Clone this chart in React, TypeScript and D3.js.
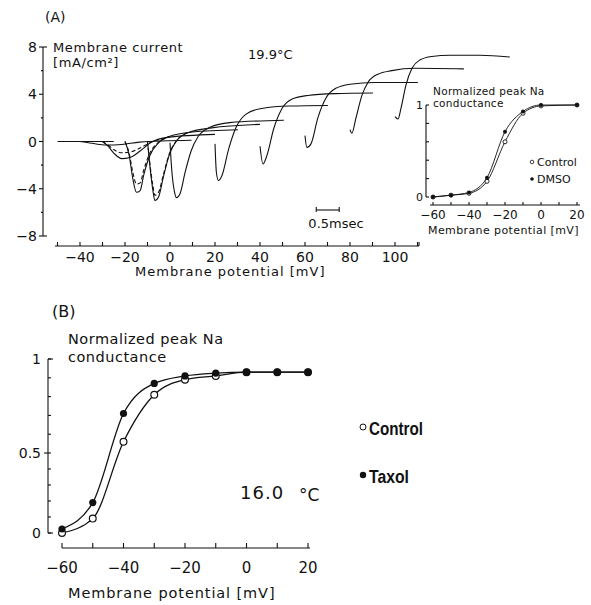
import * as d3 from "d3";

const W = 591;
const H = 605;

// ---- panel A: membrane current traces, points are [time ms, current mA/cm2]
const aTicksX = [-40, -20, 0, 20, 40, 60, 80, 100];
const aTicksY = [8, 4, 0, -4, -8];
const aMinorY = [6, 2, -2, -6];

const testPotentials = [-40, -30, -20, -10, 0, 20, 40, 60, 80, 100];

const traceM40 = [[0, 0], [0.26, -0.15], [0.57, -0.3], [0.91, -0.25], [1.3, -0.05], [2.43, 0.1]];
const traceM30 = [[0, 0], [0.12, -0.4], [0.25, -1.0], [0.42, -1.45], [0.6, -1.35], [0.82, -0.8], [1.07, -0.05], [1.42, 0.35], [2.45, 0.6]];
const traceM20 = [[0, 0], [0.09, -1.15], [0.17, -3.15], [0.25, -4.3], [0.33, -4.15], [0.41, -2.8], [0.54, -1.2], [0.72, -0.15], [0.98, 0.45], [1.46, 0.8], [2.46, 1.0]];
const traceM10 = [[0, 0], [0.05, -2.0], [0.12, -4.2], [0.16, -5.0], [0.24, -4.7], [0.34, -3.1], [0.47, -1.2], [0.64, 0.1], [0.92, 0.8], [1.4, 1.15], [2.45, 1.45]];
const trace0 = [[0, -0.1], [0.04, -2.5], [0.1, -4.3], [0.14, -4.75], [0.22, -4.4], [0.33, -2.6], [0.46, -0.8], [0.61, 0.4], [0.87, 1.2], [1.3, 1.6], [2.48, 1.8]];
const trace20 = [[0, -0.2], [0.03, -2.6], [0.075, -3.3], [0.15, -2.9], [0.3, -0.6], [0.46, 1.2], [0.67, 2.3], [1.02, 2.8], [1.63, 3.0], [2.46, 3.05]];
const trace40 = [[0, -0.4], [0.065, -1.9], [0.15, -1.2], [0.3, 1.1], [0.48, 2.8], [0.7, 3.6], [1.04, 3.9], [1.63, 4.05], [2.46, 4.1]];
const trace60 = [[0, 0.5], [0.04, -0.5], [0.13, -0.2], [0.28, 2.0], [0.46, 3.7], [0.67, 4.5], [0.98, 4.85], [1.52, 5.0], [2.46, 5.0]];
const trace80 = [[0, 1.0], [0.04, 0.7], [0.13, 2.0], [0.26, 3.9], [0.39, 5.0], [0.61, 5.7], [0.91, 6.0], [1.41, 6.2], [2.48, 6.15]];
const trace100 = [[0, 2.1], [0.065, 1.9], [0.13, 2.8], [0.24, 4.8], [0.37, 6.2], [0.54, 6.9], [0.8, 7.2], [1.2, 7.3], [1.85, 7.3], [2.5, 7.15]];
const controlTraces = [traceM40, traceM30, traceM20, traceM10, trace0, trace20, trace40, trace60, trace80, trace100];

// DMSO traces (dashed)
const dmsoPotentials = [-30, -20, -10];
const dmsoM30 = [[0, 0], [0.12, -0.3], [0.25, -0.7], [0.42, -0.95], [0.6, -0.9], [0.82, -0.55], [1.07, -0.05], [1.42, 0.3]];
const dmsoM20 = [[0, 0], [0.09, -1.0], [0.17, -2.6], [0.25, -3.6], [0.33, -3.5], [0.41, -2.4], [0.54, -1.0], [0.72, -0.1], [0.98, 0.45]];
const dmsoM10 = [[0, 0], [0.05, -1.8], [0.12, -3.8], [0.16, -4.55], [0.24, -4.3], [0.34, -2.9], [0.47, -1.1], [0.64, 0.1], [0.92, 0.8]];
const dmsoTraces = [dmsoM30, dmsoM20, dmsoM10];

const holdingMv = [-50, -25];
const scaleBarMs = 0.5;
const msecInMv = 20.4; // 1 ms of trace time spans this many mV on the axis

// ---- inset in A: normalized peak Na conductance
const insetV = [-60, -50, -40, -30, -20, -10, 0, 20];
const insetControl = [0, 0.02, 0.04, 0.17, 0.6, 0.91, 0.99, 1.0];
const insetDmso = [0, 0.02, 0.05, 0.21, 0.71, 0.93, 1.0, 1.0];
const insetTicksX = [-60, -40, -20, 0, 20];

// ---- panel B
const bV = [-60, -50, -40, -30, -20, -10, 0, 10, 20];
const bControl = [0.0, 0.09, 0.56, 0.81, 0.89, 0.91, 0.93, 0.93, 0.93];
const bTaxol = [0.025, 0.19, 0.71, 0.87, 0.91, 0.925, 0.93, 0.93, 0.93];
const bTicksX = [-60, -40, -20, 0, 20];
const bTicksY = [0, 0.5, 1];

const font = "DejaVu Sans, sans-serif";
const narrow = "Liberation Sans Narrow, Liberation Sans, sans-serif";

const fmt = (t: number) => (t < 0 ? "−" + Math.abs(t) : String(t));

export default function App() {
  // panel A scales
  const xA = d3.scaleLinear().domain([-50, 110]).range([57.5, 417.5]);
  const yA = d3.scaleLinear().domain([-8, 8]).range([236, 47]);

  const traceLine = (v: number) =>
    d3
      .line<number[]>()
      .x((d) => xA(v + d[0] * msecInMv))
      .y((d) => yA(d[1]))
      .curve(d3.curveMonotoneX);

  // inset scales
  const xI = d3.scaleLinear().domain([-60, 20]).range([433, 577]);
  const yI = d3.scaleLinear().domain([0, 1]).range([197, 105]);
  const insetLine = d3
    .line<number>()
    .x((_, i) => xI(insetV[i]))
    .y((d) => yI(d))
    .curve(d3.curveMonotoneX);

  // panel B scales
  const xB = d3.scaleLinear().domain([-60, 20]).range([62, 308]);
  const yB = d3.scaleLinear().domain([0, 0.5, 1]).range([533, 453, 359]);
  const bLine = d3
    .line<number>()
    .x((_, i) => xB(bV[i]))
    .y((d) => yB(d))
    .curve(d3.curveMonotoneX);

  const aMinorX = d3.range(-50, 111, 10);
  const bMinorX = d3.range(-60, 21, 10);
  const bMinorY = d3.range(0, 1.001, 0.1);
  const iMinorY = d3.range(0, 1.001, 0.2);
  const barEnd = 65 + scaleBarMs * msecInMv;

  return (
    <svg width={W} height={H} style={{ position: "absolute", left: 0, top: 0, background: "#fff" }}>
      <g fill="none" stroke="#111" strokeWidth={1.1}>
        {/* ===== panel A axes ===== */}
        <line x1={43} x2={43} y1={yA(8)} y2={yA(-8)} />
        {aTicksY.map((t) => (
          <line key={t} x1={39} x2={43} y1={yA(t)} y2={yA(t)} />
        ))}
        {aMinorY.map((t) => (
          <line key={t} x1={41} x2={43} y1={yA(t)} y2={yA(t)} />
        ))}
        <line x1={43} x2={47} y1={yA(8)} y2={yA(8)} />
        <line x1={43} x2={47} y1={yA(-8)} y2={yA(-8)} />
        <line x1={55} x2={419} y1={246} y2={246} />
        {aMinorX.map((t) => (
          <line key={t} x1={xA(t)} x2={xA(t)} y1={246} y2={242} />
        ))}
        <line x1={419} x2={419} y1={246} y2={242} />

        {/* holding level */}
        <line x1={xA(holdingMv[0])} x2={xA(holdingMv[1])} y1={yA(0)} y2={yA(0)} />

        {/* traces */}
        {controlTraces.map((tr, i) => (
          <path key={i} d={traceLine(testPotentials[i])(tr) || ""} />
        ))}
        {dmsoTraces.map((tr, i) => (
          <path key={i} d={traceLine(dmsoPotentials[i])(tr) || ""} strokeDasharray="4 2.5" />
        ))}

        {/* scale bar */}
        <line x1={xA(65)} x2={xA(barEnd)} y1={210} y2={210} />
        <line x1={xA(65)} x2={xA(65)} y1={207} y2={212} />
        <line x1={xA(barEnd)} x2={xA(barEnd)} y1={207} y2={212} />

        {/* ===== inset ===== */}
        <line x1={426} x2={426} y1={yI(1)} y2={yI(0)} />
        {iMinorY.map((t) => (
          <line key={t} x1={426} x2={429} y1={yI(t)} y2={yI(t)} />
        ))}
        <line x1={430} x2={580} y1={205} y2={205} />
        {d3.range(-60, 21, 10).map((t) => (
          <line key={t} x1={xI(t)} x2={xI(t)} y1={205} y2={202} />
        ))}
        <path d={insetLine(insetControl) || ""} strokeWidth={0.9} />
        <path d={insetLine(insetDmso) || ""} strokeWidth={0.9} />

        {/* ===== panel B axes ===== */}
        <line x1={48} x2={48} y1={yB(1)} y2={yB(0)} />
        {bMinorY.map((t) => (
          <line key={t} x1={48} x2={51} y1={yB(t)} y2={yB(t)} />
        ))}
        <line x1={44} x2={48} y1={yB(0.5)} y2={yB(0.5)} />
        <line x1={48} x2={53} y1={yB(1)} y2={yB(1)} />
        <line x1={48} x2={53} y1={yB(0)} y2={yB(0)} />
        <line x1={xB(-60)} x2={xB(20) + 2} y1={548} y2={548} />
        {bMinorX.map((t) => (
          <line key={t} x1={xB(t)} x2={xB(t)} y1={548} y2={543} />
        ))}
        <path d={bLine(bControl) || ""} strokeWidth={1.3} />
        <path d={bLine(bTaxol) || ""} strokeWidth={1.3} />
      </g>

      {/* inset markers */}
      {insetV.map((v, i) => (
        <circle key={"c" + v} cx={xI(v)} cy={yI(insetControl[i])} r={2} fill="#fff" stroke="#111" strokeWidth={0.9} />
      ))}
      {insetV.map((v, i) => (
        <circle key={"d" + v} cx={xI(v)} cy={yI(insetDmso[i])} r={2} fill="#111" />
      ))}

      {/* panel B markers */}
      {bV.map((v, i) => (
        <circle key={"bc" + v} cx={xB(v)} cy={yB(bControl[i])} r={3.4} fill="#fff" stroke="#111" strokeWidth={1.2} />
      ))}
      {bV.map((v, i) => (
        <circle key={"bt" + v} cx={xB(v)} cy={yB(bTaxol[i])} r={3.6} fill="#111" />
      ))}

      {/* ===== texts ===== */}
      <g fontFamily={font} fill="#111">
        <text x={45} y={22} fontSize={14}>(A)</text>
        <text x={53} y={52} fontSize={13} letterSpacing={0.6}>Membrane current</text>
        <text x={53} y={67} fontSize={13} letterSpacing={0.6}>[mA/cm²]</text>
        <text x={248} y={59} fontSize={13}>19.9°C</text>
        {aTicksY.map((t) => (
          <text key={t} x={37} y={yA(t) + 5} fontSize={14} textAnchor="end">{fmt(t)}</text>
        ))}
        {aTicksX.map((t) => (
          <text key={t} x={xA(t)} y={262} fontSize={14} textAnchor="middle">{fmt(t)}</text>
        ))}
        <text x={135} y={276} fontSize={13} letterSpacing={1}>Membrane potential [mV]</text>
        <text x={336} y={228} fontSize={13} textAnchor="middle">0.5msec</text>

        {/* inset texts */}
        <text x={433} y={95} fontSize={10.5} letterSpacing={0.3}>Normalized peak Na</text>
        <text x={433} y={107} fontSize={10.5} letterSpacing={0.3}>conductance</text>
        <text x={423} y={yI(1) + 4} fontSize={11} textAnchor="end">1</text>
        <text x={423} y={yI(0) + 4} fontSize={11} textAnchor="end">0</text>
        {insetTicksX.map((t) => (
          <text key={t} x={xI(t)} y={219} fontSize={12} textAnchor="middle">{fmt(t)}</text>
        ))}
        <text x={428} y={234} fontSize={11} letterSpacing={0.4}>Membrane potential [mV]</text>
        <circle cx={532} cy={162} r={1.8} fill="#fff" stroke="#111" strokeWidth={0.8} />
        <text x={537} y={166} fontSize={11}>Control</text>
        <circle cx={532} cy={179} r={1.8} fill="#111" />
        <text x={537} y={183} fontSize={11}>DMSO</text>

        {/* panel B texts */}
        <text x={52} y={317} fontSize={16}>(B)</text>
        <text x={68} y={344} fontSize={14.5} letterSpacing={0.5}>Normalized peak Na</text>
        <text x={68} y={362} fontSize={14.5} letterSpacing={0.5}>conductance</text>
        {bTicksY.map((t) => (
          <text key={t} x={41} y={yB(t) + 5} fontSize={14} textAnchor="end">{t}</text>
        ))}
        {bTicksX.map((t) => (
          <text key={t} x={xB(t)} y={573} fontSize={15} textAnchor="middle">{fmt(t)}</text>
        ))}
        <text x={68} y={598} fontSize={14.5} letterSpacing={0.9}>Membrane potential [mV]</text>
        <text x={240} y={499} fontSize={18} letterSpacing={1}>16.0</text>
        <text x={299} y={501} fontSize={17}>°C</text>

        <circle cx={363} cy={427} r={3} fill="#fff" stroke="#111" strokeWidth={1} />
        <text x={369} y={435} fontSize={19} fontWeight="bold" fontFamily={narrow} textLength={54} lengthAdjust="spacingAndGlyphs">Control</text>
        <circle cx={363} cy={475} r={3.2} fill="#111" />
        <text x={369} y={483} fontSize={19} fontWeight="bold" fontFamily={narrow} textLength={40} lengthAdjust="spacingAndGlyphs">Taxol</text>
      </g>
    </svg>
  );
}
